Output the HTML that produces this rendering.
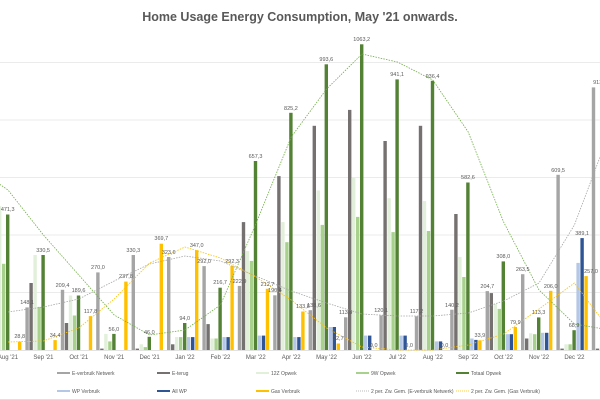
<!DOCTYPE html>
<html><head><meta charset="utf-8"><style>
html,body{margin:0;padding:0;background:#fff;width:600px;height:400px;overflow:hidden}
svg{display:block;font-family:"Liberation Sans",sans-serif}
.l{font-size:5.5px;fill:#595959;text-anchor:middle}
.m{font-size:6px;fill:#595959;text-anchor:middle}
.g{font-size:5px;fill:#595959}
</style></head><body>
<svg id="s" width="600" height="400" viewBox="0 0 600 400" xmlns="http://www.w3.org/2000/svg">
<rect width="600" height="400" fill="#fff"/>
<text x="300" y="21" font-size="12.5" font-weight="bold" fill="#595959" text-anchor="middle">Home Usage Energy Consumption, May '21 onwards.</text>
<g stroke="#e4e4e4" stroke-width="0.8">
<line x1="0" y1="62.5" x2="600" y2="62.5"/><line x1="0" y1="120" x2="600" y2="120"/>
<line x1="0" y1="177.5" x2="600" y2="177.5"/><line x1="0" y1="235" x2="600" y2="235"/>
<line x1="0" y1="292.5" x2="600" y2="292.5"/></g>
<line x1="0" y1="350.5" x2="600" y2="350.5" stroke="#d9d9d9" stroke-width="0.8"/>
<g id="bars"></g>
<polyline fill="none" stroke="#70ad47" stroke-width="0.8" stroke-dasharray="1.5,1.2" points="-27,166 8,190 43.4,235 78.8,275 114.2,315 149.6,335 185,330 220.4,305 255.8,224 291.2,137 326.6,89 362,54 397.4,62 432.8,80 468.2,132 503.6,222 539,290 574.4,324 609.8,330"/>
<polyline fill="none" stroke="#a5a5a5" stroke-width="0.8" stroke-dasharray="1.5,1.2" points="8,312 43.4,307 78.8,299 114.2,281 149.6,264 185,256 220.4,261 255.8,276 291.2,291 326.6,303 362,314 397.4,316 432.8,316 468.2,313 503.6,301 539,283 574.4,225 609.8,131"/>
<polyline fill="none" stroke="#ffc000" stroke-width="0.8" stroke-dasharray="1.5,1.2" points="8,342 43.4,341 78.8,328 114.2,299 149.6,263 185,247 220.4,258 255.8,277 291.2,300 326.6,328 362,347 397.4,350 432.8,350 468.2,345 503.6,334 539,309 574.4,283 609.8,330"/>
<g class="l">
<text x="7.7" y="211">471,3</text><text x="19.7" y="338">28,8</text>
<text x="27.1" y="304">148,1</text><text x="43.1" y="252">330,5</text><text x="55.1" y="337">34,4</text>
<text x="62.5" y="287">209,4</text><text x="78.5" y="292">189,6</text><text x="90.5" y="313">117,8</text>
<text x="97.9" y="269">270,0</text><text x="113.9" y="331">56,0</text><text x="125.9" y="278">237,8</text>
<text x="133.3" y="252">330,3</text><text x="149.3" y="334">46,0</text><text x="161.3" y="240">369,7</text>
<text x="168.7" y="254">323,6</text><text x="184.7" y="320">94,0</text><text x="196.7" y="247">347,0</text>
<text x="204.1" y="263">292,0</text><text x="220.1" y="284">216,7</text><text x="232.1" y="263">292,3</text>
<text x="239.5" y="283">222,9</text><text x="255.5" y="158">657,3</text><text x="267.5" y="286">212,7</text>
<text x="274.9" y="292">190,4</text><text x="290.9" y="110">825,2</text><text x="302.9" y="308">133,8</text>
<text x="314" y="307">138,6</text><text x="326.3" y="61">993,6</text><text x="338.3" y="340">22,7</text>
<text x="345.7" y="314">113,8</text><text x="361.7" y="41">1063,2</text><text x="373.7" y="347">0,0</text>
<text x="381.1" y="312">120,1</text><text x="397.1" y="76">941,1</text><text x="409.1" y="347">0,0</text>
<text x="416.5" y="313">117,2</text><text x="432.5" y="78">936,4</text><text x="444.5" y="347">0,0</text>
<text x="451.9" y="307">140,2</text><text x="467.9" y="179">582,6</text><text x="479.9" y="337">33,9</text>
<text x="487.3" y="288">204,7</text><text x="503.3" y="258">308,0</text><text x="515.3" y="324">79,9</text>
<text x="522.7" y="271">263,5</text><text x="538.7" y="314">113,3</text><text x="550.7" y="288">206,0</text>
<text x="558.1" y="172">609,5</text><text x="574.1" y="327">68,9</text><text x="582.1" y="235">389,1</text><text x="591" y="273">257,0</text>
<text x="600" y="84">913,5</text>
</g>
<g class="m">
<text x="8" y="359">Aug '21</text><text x="43.4" y="359">Sep '21</text><text x="78.8" y="359">Oct '21</text>
<text x="114.2" y="359">Nov '21</text><text x="149.6" y="359">Dec '21</text><text x="185" y="359">Jan '22</text>
<text x="220.4" y="359">Feb '22</text><text x="255.8" y="359">Mar '22</text><text x="291.2" y="359">Apr '22</text>
<text x="326.6" y="359">May '22</text><text x="362" y="359">Jun '22</text><text x="397.4" y="359">Jul '22</text>
<text x="432.8" y="359">Aug '22</text><text x="468.2" y="359">Sep '22</text><text x="503.6" y="359">Oct '22</text>
<text x="539" y="359">Nov '22</text><text x="574.4" y="359">Dec '22</text>
</g>
<g class="g">
<rect x="57" y="372" width="13" height="2" fill="#a5a5a5"/><text x="72" y="375">E-verbruik Netwerk</text>
<rect x="157" y="372" width="13" height="2" fill="#767171"/><text x="172" y="375">E-terug</text>
<rect x="256" y="372" width="13" height="2" fill="#e2efda"/><text x="271" y="375">12Z Opwek</text>
<rect x="356" y="372" width="13" height="2" fill="#a9d18e"/><text x="371" y="375">9W Opwek</text>
<rect x="456" y="372" width="13" height="2" fill="#548235"/><text x="471" y="375">Totaal Opwek</text>
<rect x="57" y="390" width="13" height="2" fill="#b4c7e7"/><text x="72" y="393">WP Verbruik</text>
<rect x="157" y="390" width="13" height="2" fill="#2f5597"/><text x="172" y="393">All WP</text>
<rect x="256" y="390" width="13" height="2" fill="#ffc000"/><text x="271" y="393">Gas Verbruik</text>
<line x1="356" y1="391" x2="369" y2="391" stroke="#a5a5a5" stroke-width="0.8" stroke-dasharray="1,1"/><text x="371" y="393">2 per. Zw. Gem. (E-verbruik Netwerk)</text>
<line x1="456" y1="391" x2="469" y2="391" stroke="#ffc000" stroke-width="0.8" stroke-dasharray="1,1"/><text x="471" y="393">2 per. Zw. Gem. (Gas Verbruik)</text>
</g>
<line x1="0" y1="399.5" x2="600" y2="399.5" stroke="#e0e0e0"/>
</svg>
<script>
var cols=["#a5a5a5","#767171","#e2efda","#a9d18e","#548235","#b4c7e7","#2f5597","#ffc000"];
var d=[
[200,150,600,450,640,0,0,20],
[150,110,500,300,471.3,0,0,28.8],
[148.1,233,330.5,150,330.5,0,0,34.4],
[209.4,94,189.6,120,189.6,0,0,117.8],
[270,5,56,30,56,0,0,237.8],
[330.3,5,20,10,46,0,0,369.7],
[323.6,20,45,45,94,45,45,347],
[292,90,40,40,216.7,45,45,292.3],
[222.9,445,344,310,657.3,50,50,212.7],
[190.4,605,445,375,825.2,45,45,133.8],
[138.6,780,555,435,993.6,80,80,22.7],
[113.8,835,600,463,1063.2,50,50,0],
[120.1,727,528,410,941.1,50,50,0],
[117.2,780,518,414,936.4,30,30,0],
[140.2,473,324,254,582.6,40,35,33.9],
[204.7,198,160,143,308,55,55,79.9],
[263.5,40,58,55,113.3,60,60,206],
[609.5,5,20,20,68.9,303,389.1,257],
[913.5,5,20,20,100,300,300,250]];
var g=document.getElementById("bars"),h="";
for(var i=0;i<d.length;i++){var c=8+35.4*(i-1);
for(var j=0;j<8;j++){var v=d[i][j];if(v<=0)continue;var hh=v*0.2875;
h+='<rect x="'+(c-18+4*j).toFixed(1)+'" y="'+(350-hh).toFixed(1)+'" width="3.4" height="'+hh.toFixed(1)+'" fill="'+cols[j]+'"/>';}}
g.innerHTML=h;
</script>
</body></html>
